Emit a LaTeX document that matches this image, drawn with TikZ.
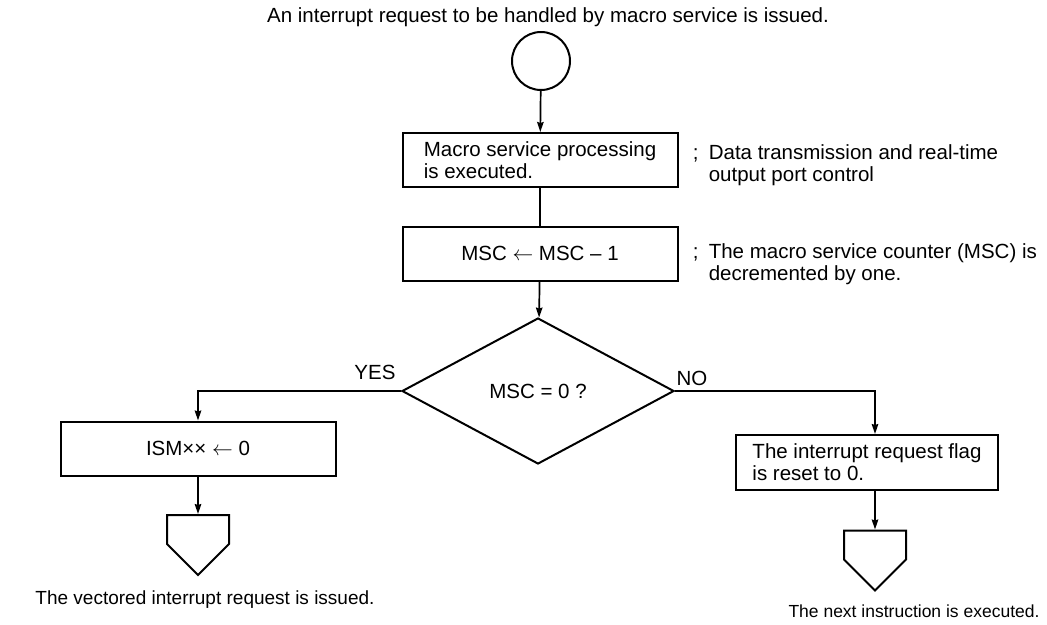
\documentclass[tikz,border=0pt]{standalone}
\usepackage{fontspec}
\setmainfont{Liberation Sans}
\usepackage{tikz}
\usetikzlibrary{arrows.meta,shapes.geometric,shapes.symbols}

\begin{document}
\begin{tikzpicture}[
  x=1pt, y=-1pt,
  >={Stealth[length=10pt,width=6.5pt,inset=1pt]},
  line width=1.7pt,
  every node/.style={font=\fontsize{20.5}{22}\selectfont},
  proc/.style={draw,line width=2pt,minimum width=275pt,minimum height=54pt,
               inner sep=0pt,align=left},
  dec/.style={diamond,draw,line width=2pt,minimum width=272pt,
              minimum height=146pt,inner sep=0pt},
  start/.style={circle,draw,line width=2pt,minimum size=58pt,inner sep=0pt},
  offpage/.style={signal,signal to=south,signal pointer angle=90,draw,
                  line width=2pt,minimum width=62pt,minimum height=29pt,inner sep=0pt},
  note/.style={anchor=west,align=left,inner sep=0pt},
  endtxt/.style={inner sep=0pt,font=\fontsize{19}{21}\selectfont},
]
  \useasboundingbox (0,0) rectangle (1047,624);

  \node (title) at (548,17) {An interrupt request to be handled by macro service is issued.};
  \node[start] (start) at (541,61) {};
  \node[proc] (exec) at (540,160) {Macro service processing\\is executed.};
  \node[proc] (count) at (540,253.5) {MSC $\leftarrow$ MSC – 1};
  \node[dec] (zero) at (538,391) {MSC = 0 ?};
  \node[proc] (ism) at (198,448.5) {ISM×× $\leftarrow$ 0};
  \node[proc,minimum width=262pt,minimum height=55pt] (flag) at (867,462.5)
        {The interrupt request flag\\is reset to 0.};
  \node[offpage] (endL) at (198,529.5) {};
  \node[offpage] (endR) at (875,545) {};

  \node[note] (noteA) at (692,165)
        {;\enspace Data transmission and real-time\\\phantom{;\enspace}output port control};
  \node[note] (noteB) at (692,264)
        {;\enspace The macro service counter (MSC) is\\\phantom{;\enspace}decremented by one.};
  \node[endtxt] (vect) at (205,600) {The vectored interrupt request is issued.};
  \node[endtxt,font=\fontsize{17.5}{20}\selectfont] (next) at (914,611)
        {The next instruction is executed.};

  \tikzset{lb/.style={inner sep=1pt}}
  \node[lb] (yes) at (375,372) {YES};
  \node[lb] (no) at (692,378) {NO};

  \draw[->] (start) -- (exec);
  \draw (exec) -- (count);
  \draw[->] (count) -- (zero);
  \draw[->] (zero.west) -| (ism.north);
  \draw[->] (zero.east) -| (endR |- flag.north);
  \draw[->] (ism) -- (endL);
  \draw[->] (endR |- flag.south) -- (endR);
\end{tikzpicture}
\end{document}
